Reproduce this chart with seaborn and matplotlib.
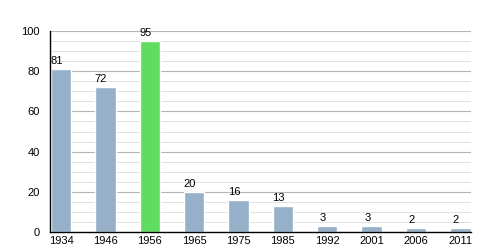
import matplotlib
matplotlib.use("Agg")
import matplotlib.pyplot as plt
import seaborn as sns
import pandas as pd
from matplotlib.ticker import MultipleLocator

years = ["1934", "1946", "1956", "1965", "1975", "1985", "1992", "2001", "2006", "2011"]
values = [81, 72, 95, 20, 16, 13, 3, 3, 2, 2]
highlight = "1956"

df = pd.DataFrame({"year": years, "value": values})
palette = {y: ("#5fdd5f" if y == highlight else "#96b0ca") for y in years}

sns.set_style("white")
plt.rcParams['font.family'] = ['Liberation Sans', 'DejaVu Sans']

fig = plt.figure(figsize=(5, 2.5), dpi=100)
ax = fig.add_axes([0.1, 0.072, 0.842, 0.804])

sns.barplot(data=df, x="year", y="value", hue="year", palette=palette,
            width=0.46, legend=False, ax=ax, saturation=1)

ax.set_ylim(0, 100)
ax.set_xlim(-0.25, len(years) - 1 + 0.24)
ax.yaxis.set_major_locator(MultipleLocator(20))
ax.yaxis.set_minor_locator(MultipleLocator(5))
ax.grid(axis="y", which="major", color="#b5b5b5", linewidth=0.8)
ax.grid(axis="y", which="minor", color="#e2e2e2", linewidth=0.7)
ax.set_axisbelow(True)

for s in ["top", "right"]:
    ax.spines[s].set_visible(False)
ax.spines["left"].set_color("black")
ax.spines["bottom"].set_color("black")
ax.spines["left"].set_linewidth(1)
ax.spines["bottom"].set_linewidth(1)

ax.tick_params(axis="y", which="major", length=2.5, width=0.8, labelsize=8, pad=5,
               direction="out", color="black", labelcolor="black")
ax.tick_params(axis="y", which="minor", length=2, width=0.6, color="black")
ax.tick_params(axis="x", length=0, labelsize=8, pad=3, labelcolor="black")
ax.set_xlabel("")
ax.set_ylabel("")

for i, v in enumerate(values):
    ax.text(i - 0.1, v + 1.5, str(v), ha="center", va="bottom", fontsize=8, color="black")

fig.savefig("out.png", dpi=100)
